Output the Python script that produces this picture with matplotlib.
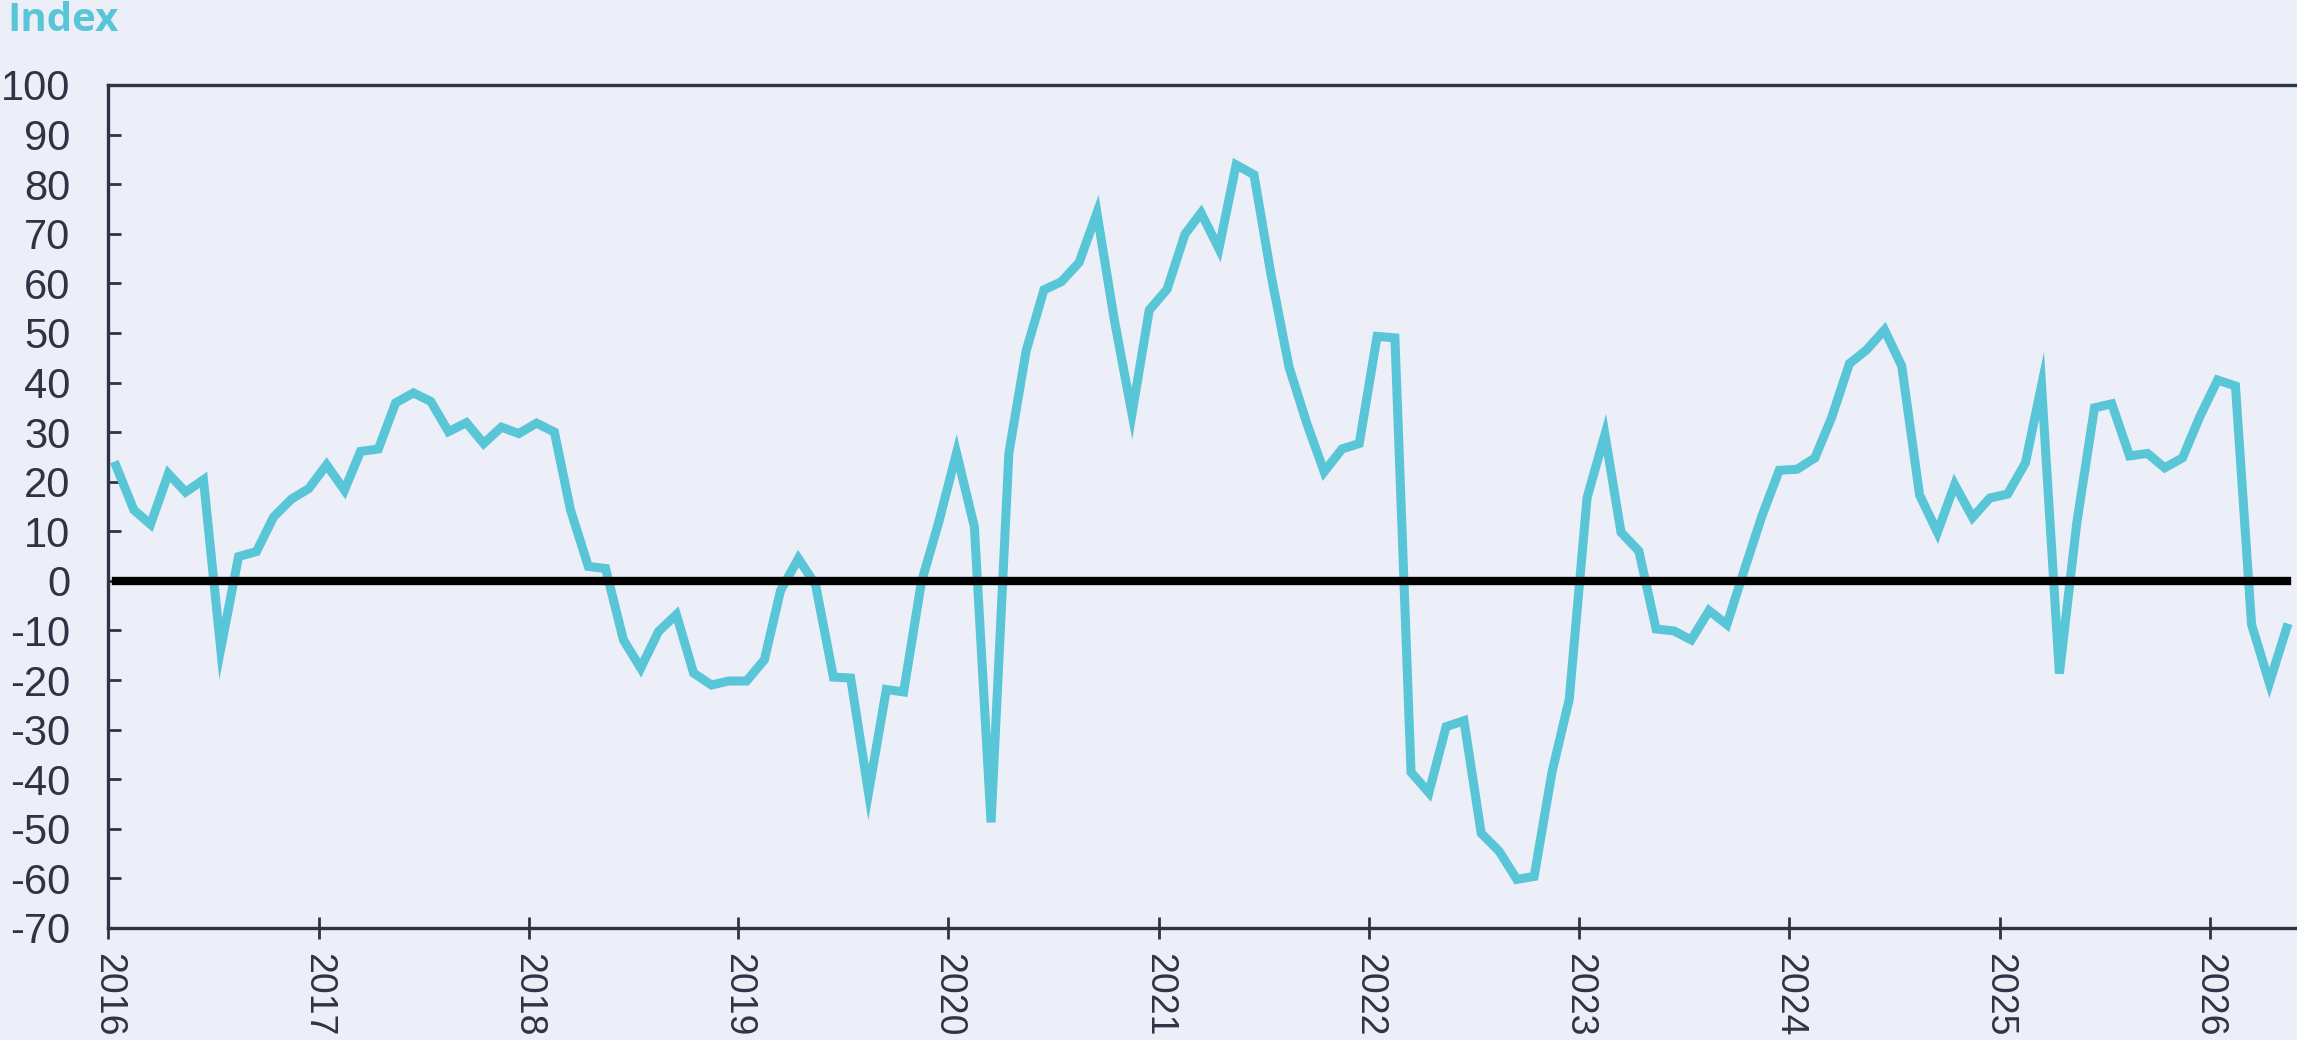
import matplotlib
matplotlib.use("Agg")
import matplotlib.pyplot as plt
import matplotlib.dates as mdates
import numpy as np
import pandas as pd

plt.rcParams["axes.unicode_minus"] = False

# monthly index values, Jan 2016 .. May 2026
values_2016 = [23.2, 14.3, 11.4, 21.6, 17.9, 20.4, -13.7, 4.9, 5.9, 12.9, 16.5, 18.6]
values_2017 = [23.4, 18.3, 26.1, 26.6, 35.9, 37.9, 36.2, 30.1, 31.9, 27.7, 31.0, 29.7]
values_2018 = [31.8, 30.0, 14.3, 2.9, 2.5, -11.9, -17.6, -10.2, -6.8, -18.6, -21.0, -20.2]
values_2019 = [-20.2, -15.9, -2.0, 4.5, -0.8, -19.4, -19.6, -42.7, -21.9, -22.4, -0.2, 11.8]
values_2020 = [25.8, 10.9, -48.7, 25.8, 46.4, 58.7, 60.3, 64.2, 74.2, 52.8, 33.7, 54.6]
values_2021 = [58.8, 69.9, 74.2, 67.0, 83.9, 81.9, 61.5, 43.1, 31.7, 22.0, 26.6, 27.7]
values_2022 = [49.3, 49.0, -38.6, -42.7, -29.4, -28.2, -50.9, -54.5, -60.2, -59.6, -38.6, -23.9]
values_2023 = [16.8, 29.5, 9.8, 6.0, -9.7, -10.1, -11.9, -6.0, -8.8, 2.1, 13.1, 22.3]
values_2024 = [22.5, 24.8, 32.9, 43.8, 46.6, 50.6, 43.3, 17.3, 9.8, 19.4, 12.8, 16.7]
values_2025 = [17.5, 23.8, 39.4, -18.7, 11.5, 34.9, 35.7, 25.2, 25.7, 22.8, 24.8, 33.1]
values_2026 = [40.5, 39.3, -8.8, -20.6, -9.5]

values = (values_2016 + values_2017 + values_2018 + values_2019 + values_2020 +
          values_2021 + values_2022 + values_2023 + values_2024 + values_2025 + values_2026)
# points sit mid-month
dates = pd.date_range("2016-01-01", periods=len(values), freq="MS") + pd.Timedelta(days=14)
zero_line = [0] * len(values)

y_ticks = list(range(-70, 101, 10))

bg = "#eceff8"
teal = "#58c6d6"
dark = "#2e3444"

fig = plt.figure(figsize=(22.97, 10.40), dpi=100, facecolor=bg)
ax = fig.add_axes([0.047, 0.1077, 0.953, 0.8106], facecolor=bg)

ax.plot(dates, values, color=teal, lw=6.5, solid_joinstyle="miter", zorder=2)
ax.plot([dates[0], dates[-1]], [zero_line[0], zero_line[-1]], color="black", lw=6, zorder=3)

ax.set_ylim(-70, 100)
ax.set_yticks(y_ticks)
ax.set_xlim(pd.Timestamp("2016-01-01"), pd.Timestamp("2026-06-02"))
ax.xaxis.set_major_locator(mdates.YearLocator())
ax.xaxis.set_major_formatter(mdates.DateFormatter("%Y"))

for side in ["left", "bottom", "top"]:
    ax.spines[side].set_color(dark)
    ax.spines[side].set_linewidth(2.4)
ax.spines["right"].set_visible(False)

ax.tick_params(axis="y", direction="in", length=9, width=2, color=dark,
               labelcolor=dark, labelsize=30, pad=27)
ax.tick_params(axis="x", direction="inout", length=16, width=2, color=dark,
               labelcolor=dark, labelsize=27, pad=10, labelrotation=-90)
for lab in ax.get_xticklabels() + ax.get_yticklabels():
    lab.set_fontfamily("Liberation Sans")

fig.text(0.003, 0.999, "Index", color=teal, fontsize=29, fontweight="bold",
         family="Open Sans", ha="left", va="top")

fig.savefig("out.png", dpi=100, facecolor=bg)
